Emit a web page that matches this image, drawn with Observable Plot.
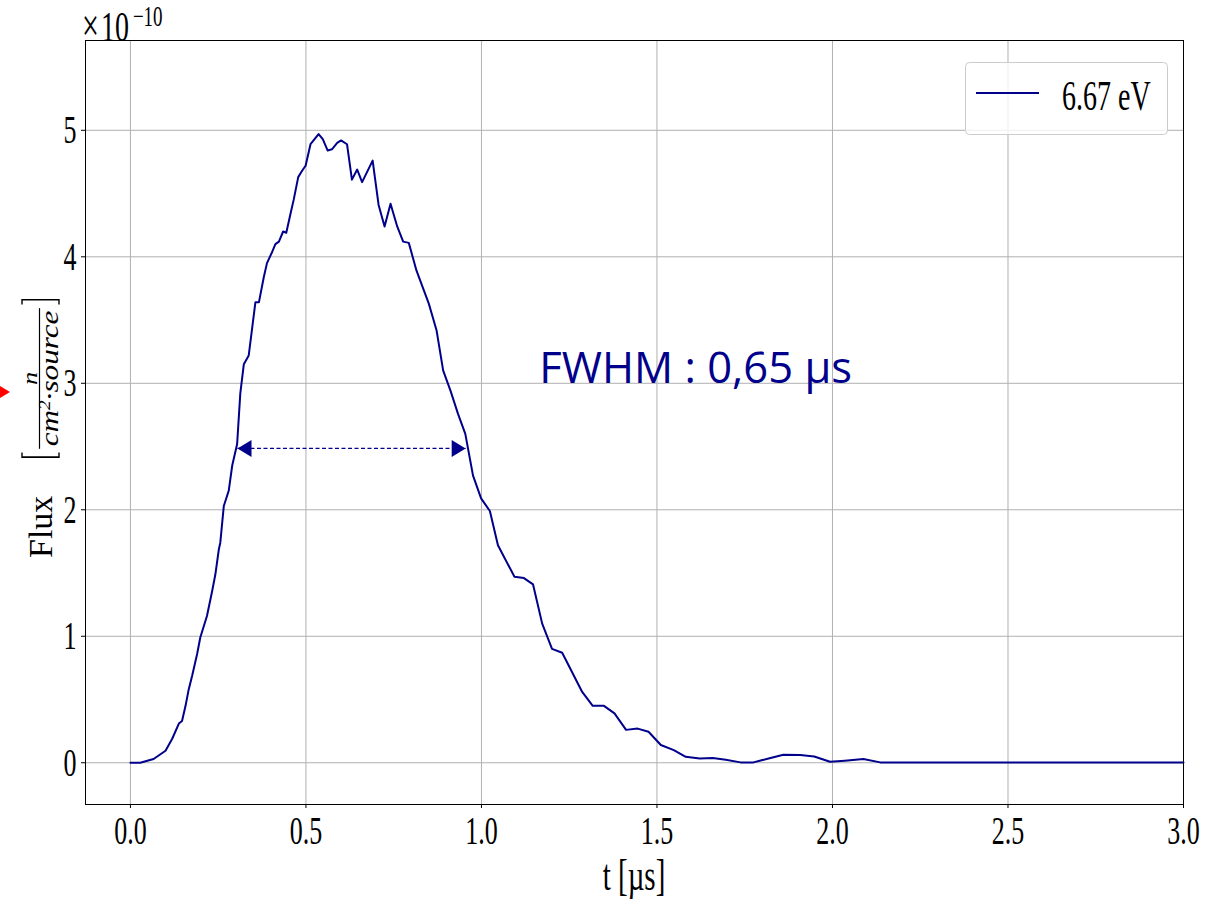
<!DOCTYPE html>
<html>
<head>
<meta charset="utf-8">
<script src="https://cdn.jsdelivr.net/npm/d3@7"></script>
<script src="https://cdn.jsdelivr.net/npm/@observablehq/plot@0.6"></script>
<style>
  html, body { margin: 0; padding: 0; background: #fff; }
  #chart { width: 1223px; height: 905px; }
</style>
</head>
<body>
<div id="chart"></div>
<script>
// Neutron flux at 6.67 eV versus time (values in units of 1e-10 n/(cm²·source))
const time = [0, 0.028, 0.066, 0.10, 0.119, 0.138, 0.147, 0.157, 0.166, 0.176,
  0.19, 0.199, 0.218, 0.233, 0.242, 0.252, 0.256, 0.266, 0.28, 0.29,
  0.304, 0.313, 0.323, 0.337, 0.356, 0.366, 0.380, 0.389, 0.404, 0.413,
  0.423, 0.435, 0.444, 0.456, 0.465, 0.478, 0.489, 0.499, 0.513, 0.536,
  0.548, 0.562, 0.574, 0.589, 0.600, 0.617, 0.631, 0.646, 0.660, 0.690,
  0.707, 0.724, 0.741, 0.760, 0.777, 0.793, 0.815, 0.850, 0.872, 0.891,
  0.912, 0.933, 0.954, 0.976, 0.999, 1.024, 1.047, 1.094, 1.121, 1.147,
  1.173, 1.201, 1.230, 1.287, 1.317, 1.349, 1.379, 1.412, 1.445, 1.476,
  1.511, 1.548, 1.582, 1.622, 1.659, 1.696, 1.738, 1.775, 1.818, 1.860,
  1.908, 1.948, 1.993, 2.035, 2.088, 2.136, 3.0];
const flux = [0, 0, 0.03, 0.095, 0.19, 0.31, 0.33, 0.45, 0.58, 0.69,
  0.86, 0.99, 1.16, 1.36, 1.49, 1.69, 1.74, 2.03, 2.15, 2.35,
  2.52, 2.92, 3.15, 3.22, 3.64, 3.64, 3.84, 3.95, 4.04, 4.10,
  4.12, 4.20, 4.19, 4.34, 4.45, 4.63, 4.68, 4.72, 4.89, 4.97,
  4.93, 4.84, 4.85, 4.90, 4.92, 4.89, 4.61, 4.69, 4.59, 4.76,
  4.41, 4.24, 4.42, 4.24, 4.12, 4.11, 3.89, 3.63, 3.42, 3.10,
  2.94, 2.76, 2.60, 2.27, 2.09, 1.99, 1.72, 1.47, 1.46, 1.41,
  1.10, 0.90, 0.87, 0.56, 0.45, 0.45, 0.39, 0.26, 0.27, 0.245,
  0.14, 0.10, 0.047, 0.034, 0.037, 0.024, 0.003, 0.003, 0.034, 0.063,
  0.061, 0.05, 0.008, 0.016, 0.029, 0.003, 0.003];

const xTicks = [0, 0.5, 1.0, 1.5, 2.0, 2.5, 3.0];
const yTicks = [0, 1, 2, 3, 4, 5];
const exponent = -10;
const seriesLabel = "6.67 eV";

// Full width at half maximum, drawn as a double arrow
const fwhm = 0.65;
const fwhmStart = 0.305;
const halfMax = 2.485;

const lineColor = "#00008b";
const SERIF = "'Liberation Serif', 'DejaVu Serif', serif";
const STRETCH = 1.53; // tall, narrow glyphs of the plot texts

const data = time.map((t, i) => ({t, v: flux[i]}));

// filled arrowheads with the tip at the anchor point
const headRight = {draw(ctx) { ctx.moveTo(0, 0); ctx.lineTo(-14, -8.5); ctx.lineTo(-14, 8.5); ctx.closePath(); }};
const headLeft = {draw(ctx) { ctx.moveTo(0, 0); ctx.lineTo(14, -8.5); ctx.lineTo(14, 8.5); ctx.closePath(); }};

const fwhmText = `FWHM : ${String(fwhm).replace(".", ",")} µs`;

const chart = Plot.plot({
  width: 1223,
  height: 905,
  marginLeft: 85,
  marginRight: 40,
  marginTop: 40,
  marginBottom: 101,
  style: {fontFamily: SERIF, fontSize: "26px", background: "white", color: "black"},
  x: {domain: [-0.128, 3.0]},
  y: {domain: [-0.33, 5.71]},
  marks: [
    Plot.gridX(xTicks, {stroke: "#b0b0b0", strokeOpacity: 1, strokeWidth: 1}),
    Plot.gridY(yTicks, {stroke: "#b0b0b0", strokeOpacity: 1, strokeWidth: 1}),
    Plot.axisX(xTicks, {tickSize: 4, tickPadding: 7.6, tickFormat: d3.format(".1f"), label: null}),
    Plot.axisY(yTicks, {tickSize: 4, tickPadding: 5, tickFormat: d => String(d), label: null}),
    Plot.line(data, {x: "t", y: "v", stroke: lineColor, strokeWidth: 2}),
    Plot.link([{x1: fwhmStart, x2: fwhmStart + fwhm, y: halfMax}],
      {x1: "x1", x2: "x2", y1: "y", y2: "y", stroke: lineColor, strokeWidth: 1.3, strokeDasharray: "4,2.5"}),
    Plot.dot([{x: fwhmStart, y: halfMax}], {x: "x", y: "y", symbol: headLeft, fill: lineColor, stroke: "none"}),
    Plot.dot([{x: fwhmStart + fwhm, y: halfMax}], {x: "x", y: "y", symbol: headRight, fill: lineColor, stroke: "none"}),
    Plot.text([{x: 1.165, y: 3.0, label: fwhmText}], {
      x: "x", y: "y", text: "label", textAnchor: "start", lineAnchor: "bottom",
      fontFamily: "'Open Sans', sans-serif", fontSize: 43.5, fill: lineColor
    }),
    Plot.frame({stroke: "black", strokeWidth: 1})
  ]
});

document.getElementById("chart").appendChild(chart);

const svg = d3.select(chart);

// stretch the tick labels vertically
svg.selectAll('g[aria-label="x-axis tick label"] text, g[aria-label="y-axis tick label"] text')
  .each(function () {
    let tr = this.getAttribute("transform");
    if (!tr) {
      const x = this.getAttribute("x") || 0, y = this.getAttribute("y") || 0;
      tr = `translate(${x},${y})`;
    }
    this.setAttribute("transform", `${tr} scale(1,${STRETCH})`);
  });

// scale factor of the y axis
const off = svg.append("g")
  .attr("transform", `translate(82,41) scale(1,${STRETCH})`)
  .attr("font-family", SERIF).attr("font-size", 28).attr("fill", "black")
  .attr("text-anchor", "start");
const offText = off.append("text");
offText.append("tspan").attr("font-size", 30).text("×");
offText.append("tspan").attr("dx", 2).text("10");
offText.append("tspan").attr("font-size", 19).attr("dy", -10).attr("dx", 4).text(`−${Math.abs(exponent)}`);

// x axis label
svg.append("text")
  .attr("transform", `translate(634,890) scale(1,${STRETCH})`)
  .attr("text-anchor", "middle")
  .attr("font-family", SERIF).attr("font-size", 29).attr("fill", "black")
  .text("t [µs]");

// y axis label: Flux [n / (cm²·source)], written bottom to top
svg.append("text")
  .attr("transform", "translate(52,558) rotate(-90)")
  .attr("text-anchor", "start")
  .attr("font-family", SERIF).attr("font-size", 34).attr("fill", "black")
  .text("Flux");
const yl = svg.append("g")
  .attr("transform", "translate(50,549) rotate(-90) scale(1.2,1)")
  .attr("font-family", SERIF).attr("fill", "black").attr("text-anchor", "start");
const fracStart = 82.5, fracEnd = 201.7, fracMid = (fracStart + fracEnd) / 2;
yl.append("path")
  .attr("d", `M${fracStart - 2},-28 H${fracStart - 6} V9 H${fracStart - 2}`)
  .attr("fill", "none").attr("stroke", "black").attr("stroke-width", 1.4);
yl.append("path")
  .attr("d", `M${fracEnd + 2},-28 H${fracEnd + 6} V9 H${fracEnd + 2}`)
  .attr("fill", "none").attr("stroke", "black").attr("stroke-width", 1.4);
yl.append("text").attr("x", fracMid).attr("y", -13).attr("text-anchor", "middle")
  .attr("font-size", 22).attr("font-style", "italic").text("n");
yl.append("line").attr("x1", fracStart + 1).attr("x2", fracEnd - 1).attr("y1", -10.5).attr("y2", -10.5)
  .attr("stroke", "black").attr("stroke-width", 1.2);
const den = yl.append("text").attr("x", fracMid).attr("y", 8).attr("text-anchor", "middle")
  .attr("font-size", 26).attr("font-style", "italic");
den.append("tspan").text("cm");
den.append("tspan").attr("font-size", 16).attr("dy", -8).text("2");
den.append("tspan").attr("dy", 8).text("·source");

// legend
const lg = svg.append("g");
lg.append("rect").attr("x", 965.5).attr("y", 62.5).attr("width", 202).attr("height", 72).attr("rx", 4)
  .attr("fill", "white").attr("fill-opacity", 0.8).attr("stroke", "#cccccc").attr("stroke-width", 1);
lg.append("line").attr("x1", 976).attr("x2", 1039).attr("y1", 93).attr("y2", 93)
  .attr("stroke", lineColor).attr("stroke-width", 2);
lg.append("text").attr("transform", `translate(1062,110) scale(1,${STRETCH})`)
  .attr("text-anchor", "start")
  .attr("font-family", SERIF).attr("font-size", 28).attr("fill", "black").text(seriesLabel);

// red pointer at the left edge
svg.append("path").attr("d", "M0,386 L10,392 L0,398 Z").attr("fill", "red");
</script>
</body>
</html>
